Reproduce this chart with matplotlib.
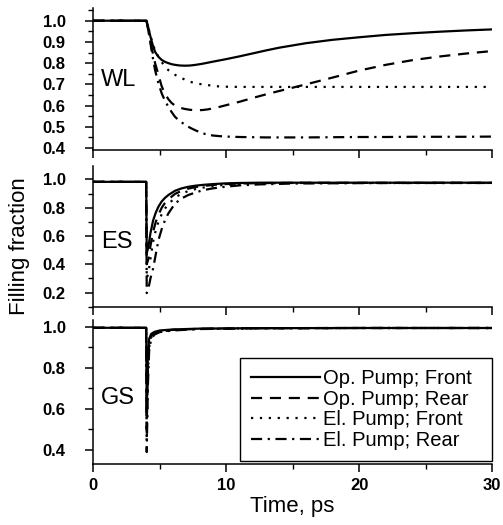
import matplotlib
matplotlib.use('Agg')
from matplotlib import pyplot as plt
from matplotlib.ticker import MultipleLocator

plt.rcParams['font.family'] = ['Liberation Sans', 'DejaVu Sans']

labels = ['Op. Pump; Front', 'Op. Pump; Rear', 'El. Pump; Front', 'El. Pump; Rear']

# wetting layer
t_wl = [0, 4.0, 4.15, 4.3, 4.45, 4.65, 4.9, 5.15, 5.4, 5.65, 5.9, 6.15, 6.5, 6.9, 7.3, 7.7,
        8.2, 8.6, 9.0, 9.5, 10, 11, 12, 13, 14, 16, 18, 20, 22, 24, 26, 28, 30]
wl_op_front = [1.0, 1.0, 0.965, 0.925, 0.89, 0.853, 0.83, 0.815, 0.806, 0.8, 0.795, 0.792, 0.789,
               0.788, 0.789, 0.792, 0.797, 0.802, 0.807, 0.813, 0.819, 0.832, 0.846, 0.860, 0.873,
               0.894, 0.910, 0.922, 0.933, 0.941, 0.948, 0.954, 0.959]
wl_op_rear = [1.0, 1.0, 0.95, 0.90, 0.855, 0.80, 0.745, 0.69, 0.655, 0.63, 0.612, 0.60, 0.59,
              0.584, 0.58, 0.578, 0.579, 0.582, 0.587, 0.594, 0.602, 0.618, 0.636, 0.653, 0.669,
              0.70, 0.732, 0.765, 0.792, 0.814, 0.831, 0.845, 0.857]
wl_el_front = [1.0, 1.0, 0.965, 0.93, 0.895, 0.86, 0.83, 0.805, 0.783, 0.767, 0.755, 0.745, 0.734,
               0.722, 0.712, 0.705, 0.70, 0.697, 0.693, 0.690, 0.689, 0.688, 0.688, 0.688, 0.688,
               0.688, 0.688, 0.688, 0.688, 0.688, 0.688, 0.688, 0.688]
wl_el_rear = [1.0, 1.0, 0.956, 0.895, 0.835, 0.767, 0.705, 0.657, 0.622, 0.594, 0.569, 0.547, 0.527,
              0.51, 0.495, 0.483, 0.47, 0.463, 0.459, 0.456, 0.454, 0.452, 0.451, 0.45, 0.45,
              0.45, 0.451, 0.452, 0.452, 0.453, 0.453, 0.453, 0.454]

# excited state
t_es = [0, 3.98, 4.02, 4.15, 4.3, 4.5, 4.7, 4.9, 5.15, 5.4, 5.65, 6.15, 6.65, 7.15, 7.7, 8.3,
        9.0, 9.9, 11, 12.5, 15, 20, 25, 30]
es_op_front = [0.983, 0.983, 0.478, 0.525, 0.62, 0.71, 0.765, 0.807, 0.845, 0.87, 0.89, 0.92,
               0.937, 0.948, 0.956, 0.962, 0.967, 0.972, 0.975, 0.977, 0.977, 0.977, 0.977, 0.977]
es_op_rear = [0.983, 0.983, 0.40, 0.44, 0.53, 0.63, 0.70, 0.75, 0.80, 0.835, 0.86, 0.898,
              0.92, 0.935, 0.946, 0.954, 0.961, 0.967, 0.971, 0.974, 0.976, 0.976, 0.976, 0.976]
es_el_front = [0.983, 0.983, 0.30, 0.34, 0.44, 0.56, 0.64, 0.70, 0.755, 0.795, 0.825, 0.872,
               0.900, 0.918, 0.932, 0.943, 0.953, 0.962, 0.968, 0.972, 0.975, 0.975, 0.975, 0.975]
es_el_rear = [0.983, 0.983, 0.196, 0.23, 0.30, 0.37, 0.47, 0.57, 0.65, 0.713, 0.76, 0.83,
              0.866, 0.89, 0.908, 0.925, 0.937, 0.948, 0.958, 0.965, 0.971, 0.974, 0.975, 0.975]

# ground state
t_gs = [0, 3.98, 4.02, 4.1, 4.2, 4.35, 4.6, 5.0, 6.0, 8.0, 12, 20, 30]
gs_op_front = [0.995, 0.995, 0.58, 0.85, 0.94, 0.965, 0.975, 0.982, 0.987, 0.991, 0.993, 0.994, 0.994]
gs_op_rear = [0.995, 0.995, 0.50, 0.80, 0.92, 0.955, 0.97, 0.979, 0.985, 0.99, 0.993, 0.994, 0.994]
gs_el_front = [0.995, 0.995, 0.45, 0.76, 0.90, 0.948, 0.967, 0.977, 0.984, 0.99, 0.993, 0.994, 0.994]
gs_el_rear = [0.995, 0.995, 0.39, 0.70, 0.88, 0.94, 0.962, 0.974, 0.982, 0.989, 0.992, 0.994, 0.994]

styles = ['-', (0, (5, 3.5)), (0, (1, 3)), (0, (5, 2.5, 1, 2.5))]

panels = [
    ('WL', t_wl, [wl_op_front, wl_op_rear, wl_el_front, wl_el_rear], (0.393, 1.06), 0.1, 0.05, 0.72,
     [0.7152, 0.9848]),
    ('ES', t_es, [es_op_front, es_op_rear, es_el_front, es_el_rear], (0.1, 1.095), 0.2, 0.1, 0.56,
     [0.4158, 0.6838]),
    ('GS', t_gs, [gs_op_front, gs_op_rear, gs_el_front, gs_el_rear], (0.332, 1.033), 0.2, 0.1, 0.653,
     [0.1162, 0.3905]),
]

fig = plt.figure(figsize=(5.03, 5.25), dpi=100)
left, width = 93.3 / 503, (492 - 93.3) / 503

axes = []
for name, t, series, ylim, major, minor, ytxt, (bot, top) in panels:
    ax = fig.add_axes([left, bot, width, top - bot])
    for y, ls, lab in zip(series, styles, labels):
        ax.plot(t, y, color='black', lw=1.6, linestyle=ls, label=lab)
    ax.set_xlim(0, 30)
    ax.set_ylim(*ylim)
    ax.spines['top'].set_visible(False)
    ax.spines['right'].set_visible(False)
    for s in ['left', 'bottom']:
        ax.spines[s].set_linewidth(1.1)
    ax.xaxis.set_major_locator(MultipleLocator(10))
    ax.xaxis.set_minor_locator(MultipleLocator(5))
    ax.yaxis.set_major_locator(MultipleLocator(major))
    ax.yaxis.set_minor_locator(MultipleLocator(minor))
    ax.tick_params(which='major', direction='out', length=6, width=1.1)
    ax.tick_params(which='minor', direction='out', length=3.5, width=1.0)
    ax.tick_params(axis='y', which='major', pad=14)
    ax.tick_params(axis='x', which='major', pad=4)
    for lbl in ax.get_yticklabels() + ax.get_xticklabels():
        lbl.set_fontweight('bold')
        lbl.set_fontsize(12)
    ax.yaxis.set_major_formatter(matplotlib.ticker.FormatStrFormatter('%.1f'))
    ax.text(0.6, ytxt, name, fontsize=17, ha='left', va='center')
    axes.append(ax)

for ax in axes[:2]:
    ax.tick_params(axis='x', labelbottom=False)

axes[2].set_xlabel('Time, ps', fontsize=16, labelpad=2)
fig.text(20 / 503, 1 - 246 / 525, 'Filling fraction', fontsize=16, rotation=90,
         ha='center', va='center')

leg = axes[2].legend(loc='lower left', bbox_to_anchor=(240 / 503, 1 - 461 / 525, (492 - 240) / 503, 0.2),
                     bbox_transform=fig.transFigure, mode='expand', borderaxespad=0,
                     fontsize=14.5, handlelength=3.4, handletextpad=0.15, labelspacing=0.08,
                     borderpad=0.55, fancybox=False, framealpha=1, edgecolor='black')
leg.get_frame().set_linewidth(1.0)

fig.savefig('out.png', dpi=100)
